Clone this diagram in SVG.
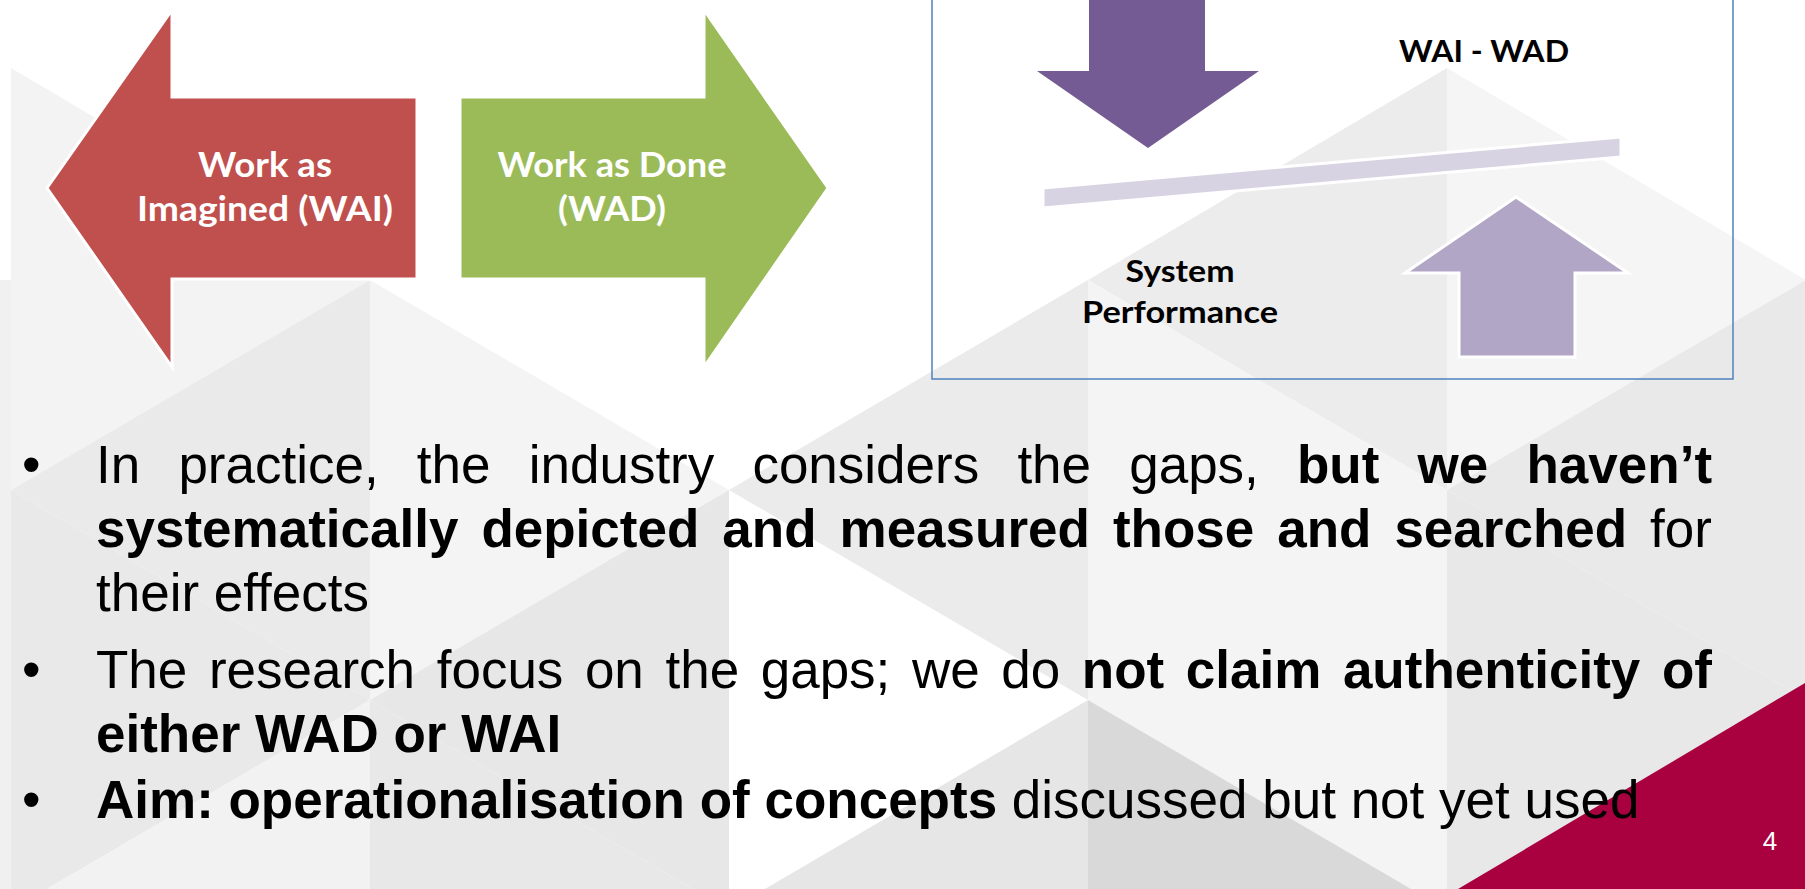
<svg xmlns="http://www.w3.org/2000/svg" width="1805" height="889" viewBox="0 0 1805 889">
<style>
.body{font-family:"Liberation Sans",Arial,sans-serif;font-size:53px;fill:#000}
.b{font-weight:bold}
.lbl{font-family:Lato,"Open Sans","Liberation Sans",sans-serif;font-weight:bold;text-anchor:middle}
.wl{fill:#fff;font-size:35px}
.kl{fill:#000;font-size:30px}
.arrowshape{stroke:#fff;stroke-width:3;stroke-linejoin:miter}
</style>
<rect width="1805" height="889" fill="#ffffff"/>
<g id="background">
<polygon points="11,68 370,280 11,490" fill="#f3f3f3"/>
<polygon points="0,280 11,280 11,910 0,910" fill="#f0f0f0"/>
<polygon points="1447,68 1088,280 1447,490" fill="#ececec"/>
<polygon points="1447,68 1806,280 1447,490" fill="#f5f5f5"/>
<polygon points="370,280 11,490 370,700" fill="#eaeaea"/>
<polygon points="370,280 729,490 370,700" fill="#f4f4f4"/>
<polygon points="1088,280 729,490 1088,700" fill="#ebebeb"/>
<polygon points="1088,280 1447,490 1088,700" fill="#f4f4f4"/>
<polygon points="1806,280 1447,490 1806,700" fill="#e9e9e9"/>
<polygon points="11,490 370,700 11,910" fill="#e9e9e9"/>
<polygon points="729,490 370,700 729,910" fill="#e7e7e7"/>
<polygon points="1447,490 1088,700 1447,910" fill="#f4f4f4"/>
<polygon points="1447,490 1806,700 1447,910" fill="#e8e8e8"/>
<polygon points="370,700 11,910 370,1120" fill="#f2f2f2"/>
<polygon points="370,700 729,910 370,1120" fill="#e8e8e8"/>
<polygon points="1088,700 729,910 1088,1120" fill="#e6e6e6"/>
<polygon points="1088,700 1447,910 1088,1120" fill="#d9d9d9"/>
<polygon points="1458,889 1805,683 1805,889" fill="#a9003f"/>
</g>
<g id="wai-arrow">
<polygon class="arrowshape" points="47,188 172,10 172,97 417,97 417,279 172,279 172,367" fill="#c0504d"/>
<text class="lbl wl" x="265" y="177" textLength="134" lengthAdjust="spacingAndGlyphs">Work as</text>
<text class="lbl wl" x="265" y="221" textLength="256" lengthAdjust="spacingAndGlyphs">Imagined (WAI)</text>
</g>
<g id="wad-arrow">
<polygon class="arrowshape" points="460,97 704,97 704,10 828,188 704,367 704,279 460,279" fill="#9bbb59"/>
<text class="lbl wl" x="612" y="177" textLength="229" lengthAdjust="spacingAndGlyphs">Work as Done</text>
<text class="lbl wl" x="612" y="221" textLength="108" lengthAdjust="spacingAndGlyphs">(WAD)</text>
</g>
<g id="gap-panel">
<rect x="932" y="-10" width="801" height="389" fill="none" stroke="#4f81bd" stroke-width="1.5"/>
</g>
<g id="wai-down-arrow">
<polygon points="1089,-10 1205,-10 1205,71 1259,71 1148,148 1037,71 1089,71" fill="#745b93"/>
</g>
<g id="balance-bar">
<polygon class="arrowshape" points="1043,188 1621,137 1621,157 1043,208" fill="#d8d3e3"/>
</g>
<g id="wad-up-arrow">
<polygon class="arrowshape" points="1516,197 1628,273 1575,273 1575,357 1459,357 1459,273 1405,273" fill="#b2a6c6" stroke-width="4"/>
</g>
<g id="gap-label">
<text class="lbl kl" x="1484" y="62" textLength="170" lengthAdjust="spacingAndGlyphs">WAI - WAD</text>
</g>
<g id="performance-label">
<text class="lbl kl" x="1180" y="282" textLength="109" lengthAdjust="spacingAndGlyphs">System</text>
<text class="lbl kl" x="1180" y="323" textLength="196" lengthAdjust="spacingAndGlyphs">Performance</text>
</g>
<g id="bullets" class="body">
<text x="22" y="483">•</text>
<text x="22" y="688">•</text>
<text x="22" y="818">•</text>
<text y="483"><tspan x="96">In</tspan><tspan x="178.4">practice,</tspan><tspan x="416.8">the</tspan><tspan x="528.7">industry</tspan><tspan x="752.4">considers</tspan><tspan x="1017.4">the</tspan><tspan x="1129.2">gaps,</tspan><tspan x="1297" class="b">but</tspan><tspan x="1417.6" class="b">we</tspan><tspan x="1526.5" class="b">haven’t</tspan></text>
<text y="547" class="b"><tspan x="96">systematically</tspan><tspan x="481.4">depicted</tspan><tspan x="722.3">and</tspan><tspan x="839.5">measured</tspan><tspan x="1112.9">those</tspan><tspan x="1277.2">and</tspan><tspan x="1394.4">searched</tspan><tspan x="1650.1" font-weight="normal">for</tspan></text>
<text x="96" y="611">their effects</text>
<text y="688"><tspan x="96">The</tspan><tspan x="208.9">research</tspan><tspan x="436.7">focus</tspan><tspan x="584.9">on</tspan><tspan x="665.5">the</tspan><tspan x="760.7">gaps;</tspan><tspan x="912">we</tspan><tspan x="1001.3">do</tspan><tspan x="1081.8" class="b">not</tspan><tspan x="1185.8" class="b">claim</tspan><tspan x="1342.9" class="b">authenticity</tspan><tspan x="1662" class="b">of</tspan></text>
<text x="96" y="752" class="b">either WAD or WAI</text>
<text x="96" y="818"><tspan class="b">Aim: operationalisation of concepts</tspan> discussed but not yet used</text>
</g>
<text x="1770" y="850" font-family="Liberation Sans, Arial, sans-serif" font-size="26" fill="#ffffff" text-anchor="middle">4</text>
</svg>
